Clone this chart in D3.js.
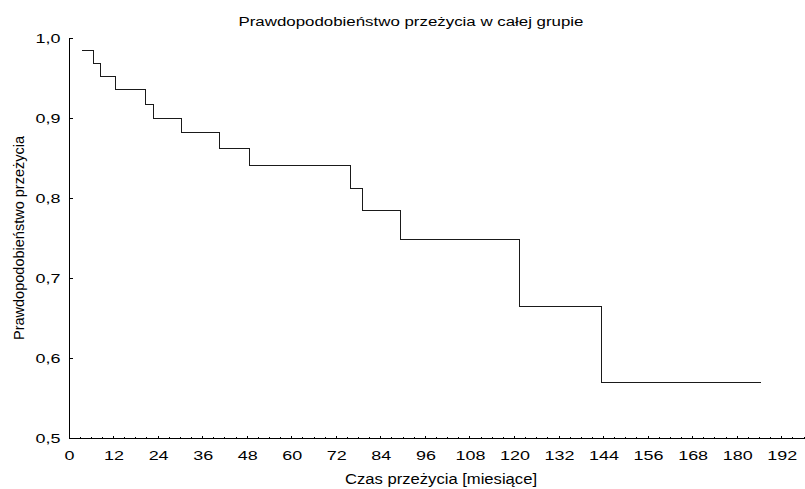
<!DOCTYPE html>
<html>
<head>
<meta charset="utf-8">
<script src="https://cdn.jsdelivr.net/npm/d3@7"></script>
<style>
  html, body { margin: 0; padding: 0; background: #fff; }
  svg { display: block; }
  text { font-family: "Liberation Sans", Arial, sans-serif; fill: #000; }
</style>
</head>
<body>
<svg id="chart" width="805" height="489"></svg>
<script>
// Kaplan–Meier survival estimate: step start times (months) and survival level after each step
const stepTimes = [3.4, 6.5, 8.5, 12.4, 20.5, 22.8, 30.4, 40.6, 48.5, 75.7, 79.1, 89.3, 121.4, 143.4];
const survival  = [0.985, 0.969, 0.953, 0.936, 0.918, 0.900, 0.882, 0.862, 0.841, 0.813, 0.785, 0.749, 0.665, 0.570];
const lastTime = 186.3;

const xTicks = [0, 12, 24, 36, 48, 60, 72, 84, 96, 108, 120, 132, 144, 156, 168, 180, 192];
const yTicks = [0.5, 0.6, 0.7, 0.8, 0.9, 1.0];

const titleText = "Prawdopodobieństwo przeżycia w całej grupie";
const xLabel = "Czas przeżycia [miesiące]";
const yLabel = "Prawdopodobieństwo przeżycia";

const svg = d3.select("#chart");
const fmt = d => d.toFixed(1).replace(".", ",");

// Text in this figure is set in a horizontally widened face
function widen(sel, factor) {
  sel.each(function () {
    const w = this.getComputedTextLength();
    d3.select(this).attr("textLength", w * factor).attr("lengthAdjust", "spacingAndGlyphs");
  });
}

const x = d3.scaleLinear().domain([0, 198]).range([69, 804]);
const y = d3.scaleLinear().domain([0.5, 1.0]).range([438.5, 38.5]);

// Tick labels via d3 axes (axis domain/ticks drawn separately, pointing inward)
const xAxis = svg.append("g").attr("transform", `translate(0,${y(0.5)})`)
  .call(d3.axisBottom(x).tickValues(xTicks).tickSize(0).tickPadding(12).tickFormat(d3.format("d")));
xAxis.select(".domain").remove();
xAxis.selectAll("text").style("font-size", "13px").attr("fill", "#000").call(widen, 1.38);

const yAxis = svg.append("g").attr("transform", `translate(${x(0)},0)`)
  .call(d3.axisLeft(y).tickValues(yTicks).tickSize(0).tickPadding(8.5).tickFormat(fmt));
yAxis.select(".domain").remove();
yAxis.selectAll("text").style("font-size", "13px").attr("fill", "#000").call(widen, 1.38);

const axisG = svg.append("g").attr("stroke", "#000").attr("stroke-width", 1).attr("shape-rendering", "crispEdges");
axisG.append("line").attr("x1", x(0)).attr("x2", x(198)).attr("y1", y(0.5)).attr("y2", y(0.5));
axisG.append("line").attr("x1", x(0)).attr("x2", x(0)).attr("y1", y(0.5)).attr("y2", y(1.0));

// x ticks every 3 months, longer at labelled values
const minor = d3.range(0, 199, 3);
axisG.selectAll("line.xt").data(minor).join("line").attr("class", "xt")
  .attr("x1", d => x(d)).attr("x2", d => x(d))
  .attr("y1", y(0.5)).attr("y2", d => y(0.5) - (d % 12 === 0 ? 3 : 2));
axisG.selectAll("line.yt").data(yTicks).join("line").attr("class", "yt")
  .attr("x1", x(0)).attr("x2", x(0) + 4)
  .attr("y1", d => y(d)).attr("y2", d => y(d));

// Survival step curve
const pts = stepTimes.map((t, i) => [t, survival[i]]);
pts.push([lastTime, survival[survival.length - 1]]);
const line = d3.line().x(d => x(d[0])).y(d => y(d[1])).curve(d3.curveStepAfter);
svg.append("path").datum(pts)
  .attr("d", line).attr("fill", "none").attr("stroke", "#1a1a1a").attr("stroke-width", 1)
  .attr("shape-rendering", "crispEdges");

// Titles
svg.append("text").attr("x", 411).attr("y", 26).attr("text-anchor", "middle")
  .style("font-size", "12px").attr("textLength", 345).attr("lengthAdjust", "spacingAndGlyphs")
  .text(titleText);
svg.append("text").attr("x", 441).attr("y", 484).attr("text-anchor", "middle")
  .style("font-size", "14px").attr("textLength", 192).attr("lengthAdjust", "spacingAndGlyphs")
  .text(xLabel);
svg.append("text").attr("transform", "translate(23.5,238) rotate(-90)").attr("text-anchor", "middle")
  .style("font-size", "14px").attr("textLength", 204).attr("lengthAdjust", "spacingAndGlyphs")
  .text(yLabel);
</script>
</body>
</html>
